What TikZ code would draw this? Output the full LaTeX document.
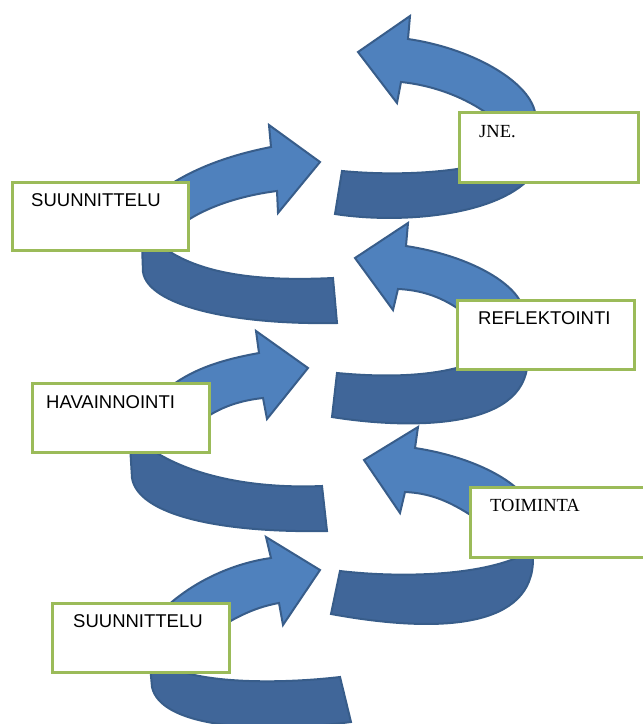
\documentclass[tikz,border=0pt]{standalone}
\usepackage{fontspec}
\setmainfont{Liberation Sans}
\newfontfamily\timesfont{Liberation Serif}
\usetikzlibrary{positioning}
\definecolor{arrowblue}{HTML}{4F81BD}
\definecolor{arrowline}{HTML}{385D8A}
\definecolor{backblue}{RGB}{64,102,153}
\definecolor{boxgreen}{HTML}{9BBB59}
\tikzset{phasebox/.style={draw=boxgreen, fill=white, line width=3pt, minimum width=177pt, minimum height=69pt, inner sep=0pt, outer sep=0pt, anchor=north west}}

\begin{document}
\begin{tikzpicture}[x=1pt, y=-1pt,
  frontarrow/.style={fill=arrowblue, draw=arrowline, line width=2pt},
  backband/.style={fill=backblue, draw=arrowline, line width=2pt},
  phaselabel/.style={anchor=base west, inner sep=0pt, font=\fontsize{18.5}{20}\selectfont}]
\useasboundingbox (0,0) rectangle (643,724);
\clip (0,0) rectangle (643,724);

\filldraw[backband] (150,665) -- (152,687) .. controls (160,725) and (250,735) .. (351,722) -- (340,677) .. controls (280,684) and (200,684) .. (165,665) -- cycle;
\filldraw[backband] (340,571) .. controls (400,578) and (480,576) .. (523,555) -- (533,550) -- (533,558) .. controls (534,628) and (440,634) .. (331,614) -- cycle;
\filldraw[backband] (130,445) -- (132,478) .. controls (138,515) and (220,533) .. (327,531) -- (322,486) .. controls (250,489) and (185,475) .. (145,445) -- cycle;
\filldraw[backband] (337,373) .. controls (390,378) and (440,376) .. (475,362) -- (527,362) -- (527,368) .. controls (518,432) and (400,428) .. (332,417) -- cycle;
\filldraw[backband] (142,245) -- (143,272) .. controls (148,305) and (230,325) .. (337,323) -- (333,278) .. controls (250,282) and (195,272) .. (160,245) -- cycle;
\filldraw[backband] (342,171) .. controls (385,175) and (430,174) .. (470,167) -- (535,140) -- (530,178) .. controls (495,216) and (400,224) .. (335,214) -- cycle;

\filldraw[frontarrow] (320,570) -- (266,537) -- (271,558) .. controls (235,563) and (195,580) .. (165,608) -- (165,640) -- (222,626) .. controls (245,612) and (262,606) .. (279,603) -- (283,625) -- cycle;
\filldraw[frontarrow] (364,460) -- (418,427) -- (415,448) .. controls (474,457) and (521,482) .. (531,507) -- (480,525) -- (475,518) .. controls (447,499) and (427,493) .. (405,492) -- (400,513) -- cycle;
\filldraw[frontarrow] (308,368) -- (256,331) -- (259,353) .. controls (220,360) and (190,370) .. (166,390) -- (166,430) -- (200,422) .. controls (215,410) and (235,401) .. (263,398) -- (267,419) -- cycle;
\filldraw[frontarrow] (355,258) -- (408,223) -- (406,246) .. controls (465,255) and (512,280) .. (522,305) -- (470,320) -- (460,310) .. controls (440,296) and (420,290) .. (398,289) -- (393,310) -- cycle;
\filldraw[frontarrow] (320,162) -- (269,125) -- (271,147) .. controls (230,155) and (195,168) .. (168,186) -- (168,230) -- (185,222) .. controls (210,205) and (245,195) .. (277,191) -- (278,213) -- cycle;
\filldraw[frontarrow] (358,52) -- (410,16) -- (408,39) .. controls (470,48) and (528,80) .. (535,112) -- (536,135) -- (490,135) -- (485,112) .. controls (460,95) and (430,85) .. (401,82) -- (397,103) -- cycle;

\node[phasebox, minimum width=179pt, minimum height=70pt] (jne) at (459,112) {};
\node[phasebox, minimum width=176pt, minimum height=68pt] (suunA) at (12,182) {};
\node[phasebox] (reflek) at (457,300) {};
\node[phasebox] (havain) at (32,383) {};
\node[phasebox, minimum height=70pt] (toim) at (470,487) {};
\node[phasebox] (suunB) at (52,603) {};

\node[phaselabel, font=\timesfont\fontsize{18.5}{20}\selectfont] (jnetxt) at (479,137) {JNE.};
\node[phaselabel] (suunAtxt) at (31,206) {SUUNNITTELU};
\node[phaselabel] (reflektxt) at (478,324) {REFLEKTOINTI};
\node[phaselabel] (havaintxt) at (46,408) {HAVAINNOINTI};
\node[phaselabel, font=\timesfont\fontsize{18.5}{20}\selectfont] (toimtxt) at (490,511) {TOIMINTA};
\node[phaselabel] (suunBtxt) at (73,627) {SUUNNITTELU};

\end{tikzpicture}
\end{document}
